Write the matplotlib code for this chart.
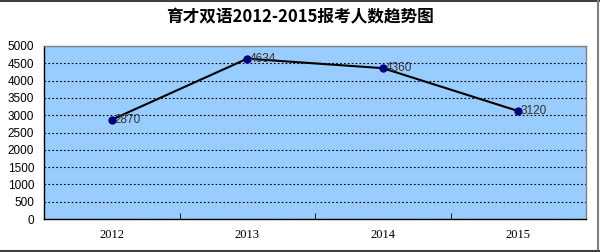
import matplotlib
matplotlib.use("Agg")
import matplotlib.pyplot as plt
from matplotlib.lines import Line2D

# Chart data
years = ['2012', '2013', '2014', '2015']
counts = [2870, 4634, 4360, 3120]
yticks = list(range(0, 5001, 500))
title = '育才双语2012-2015报考人数趋势图'

fig = plt.figure(figsize=(6.0, 2.52), dpi=100)
ax = fig.add_axes([44 / 600, 1 - 219 / 252, 542 / 600, 173 / 252])
ax.set_facecolor('#99ccff')

x = list(range(len(years)))
ax.plot(x, counts, color='black', lw=1.5, zorder=3)
ax.plot(x, counts, 'o', color='#000080', ms=5, zorder=4)
for xi, v in zip(x, counts):
    ax.annotate(str(v), (xi, v), xytext=(2, 0), textcoords='offset points',
                ha='left', va='center', fontsize=8.5, family='Liberation Sans',
                color='#333333', zorder=5)

ax.set_xlim(-0.5, len(years) - 0.5)
ax.set_ylim(0, 5000)
ax.set_yticks(yticks)
ax.set_yticklabels([str(t) for t in yticks], family='Liberation Sans', fontsize=8.5)
ax.tick_params(axis='y', length=0, pad=7)
ax.grid(axis='y', color='black', ls=(0, (1.5, 2)), lw=0.8)
ax.set_axisbelow(True)

ax.set_xticks(x)
ax.set_xticklabels(years, family='Liberation Serif', fontsize=9)
ax.tick_params(axis='x', which='major', length=0, pad=7)
ax.set_xticks([0.5, 1.5, 2.5], minor=True)
ax.tick_params(axis='x', which='minor', direction='in', length=4, color='black')

for side in ['left', 'bottom']:
    ax.spines[side].set_color('black')
    ax.spines[side].set_linewidth(1.0)
for side in ['top', 'right']:
    ax.spines[side].set_color('#808080')
    ax.spines[side].set_linewidth(1.0)

fig.text(0.5, 1 - 17 / 252, title, ha='center', va='center', fontsize=12,
         fontweight='bold', family=['Noto Sans CJK SC', 'DejaVu Sans'])

# Outer frame lines
fig.add_artist(Line2D([0, 1], [1 - 0.5 / 252, 1 - 0.5 / 252], color='#404040', lw=1.5,
                      transform=fig.transFigure))
fig.add_artist(Line2D([598 / 600, 598 / 600], [0, 1], color='#808080', lw=1.5,
                      transform=fig.transFigure))
fig.add_artist(Line2D([0, 1], [1 - 250.5 / 252, 1 - 250.5 / 252], color='#404040', lw=1.5,
                      transform=fig.transFigure))

fig.savefig('out.png', dpi=100)
